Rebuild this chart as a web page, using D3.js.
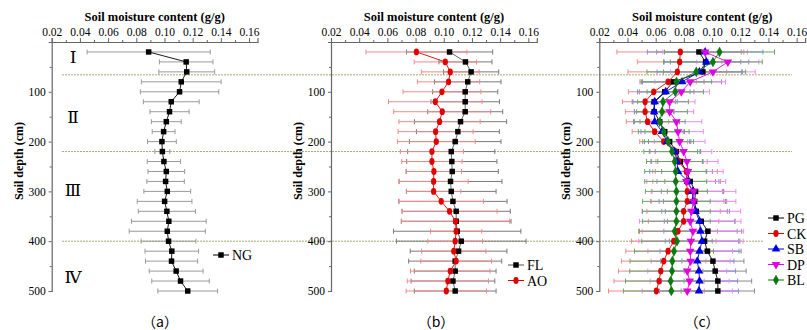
<!DOCTYPE html>
<html>
<head>
<meta charset="utf-8">
<script src="https://cdn.jsdelivr.net/npm/d3@7"></script>
<style>
  body { margin: 0; background: #fff; }
  svg text { font-family: "Liberation Serif", "Times New Roman", serif; fill: #000; }
</style>
</head>
<body>
<div id="chart"></div>
<script>
// soil depth of every sample (cm)
var depths = [20, 40, 60, 80, 100, 120, 140, 160, 180, 200, 220, 240, 260, 280, 300,
              320, 340, 360, 380, 400, 420, 440, 460, 480, 500];

// (a) NG
var ngMean = [0.0888, 0.1154, 0.1158, 0.1119, 0.1107, 0.1048, 0.1036, 0.1013, 0.0994, 0.0982, 0.0985, 0.0996, 0.1013,
              0.1008, 0.1020, 0.1001, 0.1017, 0.1031, 0.1020, 0.1029, 0.1052, 0.1050, 0.1083, 0.1114, 0.1165];
var ngErr = [0.0437, 0.0190, 0.0198, 0.0283, 0.0278, 0.0198, 0.0139, 0.0106, 0.0081, 0.0102, 0.0053, 0.0118, 0.0130,
             0.0133, 0.0166, 0.0194, 0.0203, 0.0265, 0.0270, 0.0194, 0.0190, 0.0185, 0.0191, 0.0204, 0.0212];

// (b) FL and AO
var flMean = [0.1041, 0.1154, 0.1194, 0.1170, 0.1152, 0.1152, 0.1152, 0.1119, 0.1100, 0.1081, 0.1053, 0.1057, 0.1060,
              0.1048, 0.1053, 0.1065, 0.1088, 0.1088, 0.1095, 0.1124, 0.1105, 0.1081, 0.1081, 0.1065, 0.1081];
var flErr = [0.0306, 0.0188, 0.0196, 0.0236, 0.0231, 0.0243, 0.0266, 0.0327, 0.0294, 0.0325, 0.0309, 0.0320, 0.0327,
             0.0365, 0.0318, 0.0384, 0.0384, 0.0389, 0.0452, 0.0460, 0.0343, 0.0330, 0.0290, 0.0297, 0.0290];
var aoMean = [0.0806, 0.1011, 0.1046, 0.1034, 0.0987, 0.0940, 0.0989, 0.0970, 0.0942, 0.0947, 0.0916, 0.0916, 0.0930,
              0.0928, 0.0928, 0.0982, 0.1041, 0.1083, 0.1088, 0.1081, 0.1071, 0.1088, 0.1046, 0.1029, 0.1018];
var aoErr = [0.0358, 0.0221, 0.0205, 0.0221, 0.0276, 0.0332, 0.0344, 0.0288, 0.0266, 0.0276, 0.0224, 0.0214, 0.0196,
             0.0245, 0.0193, 0.0299, 0.0337, 0.0384, 0.0182, 0.0194, 0.0228, 0.0251, 0.0282, 0.0288, 0.0285];

// (c) PG, CK, SB, DP, BL
var pgMean = [0.0907, 0.0954, 0.0935, 0.0723, 0.0664, 0.0589, 0.0589, 0.0629, 0.0664, 0.0699, 0.0747, 0.0775, 0.0822,
              0.0845, 0.0883, 0.0876, 0.0888, 0.0923, 0.0970, 0.0947, 0.0966, 0.1006, 0.1022, 0.1041, 0.1041];
var pgErr = [0.030, 0.025, 0.028, 0.022, 0.018, 0.015, 0.014, 0.014, 0.014, 0.015, 0.015, 0.016, 0.018,
             0.018, 0.020, 0.022, 0.022, 0.024, 0.024, 0.025, 0.024, 0.022, 0.022, 0.024, 0.026];
var ckMean = [0.0775, 0.0770, 0.0754, 0.0688, 0.0586, 0.0525, 0.0525, 0.0542, 0.0593, 0.0657, 0.0740, 0.0765, 0.0817,
              0.0820, 0.0824, 0.0824, 0.0798, 0.0798, 0.0758, 0.0728, 0.0688, 0.0657, 0.0636, 0.0624, 0.0605];
var ckErr = [0.045, 0.030, 0.035, 0.020, 0.018, 0.016, 0.014, 0.015, 0.016, 0.017, 0.018, 0.020, 0.022,
             0.024, 0.025, 0.026, 0.026, 0.025, 0.028, 0.030, 0.030, 0.030, 0.030, 0.032, 0.034];
var sbMean = [0.0951, 0.0960, 0.0910, 0.0787, 0.0671, 0.0593, 0.0589, 0.0593, 0.0645, 0.0681, 0.0735, 0.0751, 0.0758,
              0.0829, 0.0860, 0.0864, 0.0883, 0.0911, 0.0918, 0.0928, 0.0911, 0.0895, 0.0907, 0.0911, 0.0907];
var sbErr = [0.041, 0.030, 0.030, 0.028, 0.020, 0.016, 0.014, 0.015, 0.015, 0.016, 0.018, 0.018, 0.020,
             0.022, 0.022, 0.024, 0.024, 0.025, 0.026, 0.026, 0.028, 0.026, 0.026, 0.027, 0.028];
var dpMean = [0.0951, 0.1112, 0.1006, 0.0845, 0.0782, 0.0699, 0.0699, 0.0747, 0.0758, 0.0770, 0.0798, 0.0822, 0.0829,
              0.0817, 0.0869, 0.0869, 0.0853, 0.0845, 0.0864, 0.0850, 0.0845, 0.0848, 0.0824, 0.0841, 0.0824];
var dpErr = [0.030, 0.022, 0.030, 0.025, 0.020, 0.018, 0.017, 0.018, 0.018, 0.018, 0.020, 0.022, 0.025,
             0.028, 0.030, 0.030, 0.035, 0.036, 0.036, 0.037, 0.030, 0.028, 0.028, 0.028, 0.032];
var blMean = [0.1053, 0.1006, 0.0888, 0.0747, 0.0739, 0.0652, 0.0645, 0.0629, 0.0657, 0.0688, 0.0716, 0.0735, 0.0742,
              0.0742, 0.0747, 0.0747, 0.0747, 0.0747, 0.0735, 0.0751, 0.0730, 0.0718, 0.0716, 0.0706, 0.0711];
var blErr = [0.039, 0.035, 0.035, 0.025, 0.020, 0.018, 0.018, 0.018, 0.018, 0.018, 0.020, 0.020, 0.022,
             0.022, 0.022, 0.024, 0.024, 0.024, 0.025, 0.025, 0.028, 0.030, 0.030, 0.032, 0.034];

// axis ticks and annotations
var xTicks = [0.02, 0.04, 0.06, 0.08, 0.10, 0.12, 0.14, 0.16];
var yTicks = [100, 200, 300, 400, 500];
var layerBounds = [66, 220, 400];
var layerNames = ["Ⅰ", "Ⅱ", "Ⅲ", "Ⅳ"];
var layerDepths = [30, 150, 298, 472];
var panelNames = ["（a）", "（b）", "（c）"];

var W = 807, H = 330;
var svg = d3.select("#chart").append("svg").attr("width", W).attr("height", H);

var yTop = 42, yBottom = 291;
var y = d3.scaleLinear().domain([0, 500]).range([yTop, yBottom]);

// one panel per group of treatments
var panels = [
  { left: 51.7, label: 160, series: [
      { name: "NG", mean: ngMean, err: ngErr, color: "#000", bar: "#9a9a9a", shape: "square" }] },
  { left: 331, label: 436, series: [
      { name: "FL", mean: flMean, err: flErr, color: "#000", bar: "#7a7a7a", line: "#555", shape: "square" },
      { name: "AO", mean: aoMean, err: aoErr, color: "#e00000", bar: "#f08a8a", shape: "circle" }] },
  { left: 599.3, label: 702, series: [
      { name: "PG", mean: pgMean, err: pgErr, color: "#000", bar: "#8c8c8c", shape: "square" },
      { name: "CK", mean: ckMean, err: ckErr, color: "#e00000", bar: "#f08a8a", shape: "circle" },
      { name: "SB", mean: sbMean, err: sbErr, color: "#0000e0", bar: "#8a8af0", shape: "up" },
      { name: "DP", mean: dpMean, err: dpErr, color: "#e000e0", bar: "#f08af0", shape: "down" },
      { name: "BL", mean: blMean, err: blErr, color: "#107810", bar: "#6aa86a", shape: "diamond" }] }
];

var legendPos = [{ x: 213, y: 255 }, { x: 508, y: 265 }, { x: 768, y: 218 }];

function symbolPath(shape) {
  if (shape == "square") return d3.symbol(d3.symbolSquare, 30)();
  if (shape == "circle") return d3.symbol(d3.symbolCircle, 30)();
  if (shape == "diamond") return d3.symbol(d3.symbolDiamond, 32)();
  return d3.symbol(d3.symbolTriangle, 32)();
}
function symbolTransform(shape, px, py) {
  if (shape == "circle") return "translate(" + px + "," + py + ") scale(0.85,1.1)";
  if (shape == "down") return "translate(" + px + "," + py + ") rotate(180)";
  return "translate(" + px + "," + py + ")";
}

// layer boundaries (dotted lines run across all panels)
layerBounds.forEach(function (b, i) {
  svg.append("line")
    .attr("x1", 62).attr("x2", i == 2 ? 763 : 792)
    .attr("y1", y(b)).attr("y2", y(b))
    .attr("stroke", "#a9a872").attr("stroke-width", 1)
    .attr("stroke-dasharray", "2,1");
});

panels.forEach(function (p, pi) {
  var x = d3.scaleLinear().domain([0.02, 0.166]).range([p.left, p.left + 205.8]);
  var g = svg.append("g");

  // axes
  g.append("g").attr("transform", "translate(0," + yTop + ")")
    .call(d3.axisTop(x).tickValues(xTicks).tickFormat(d3.format(".2f")).tickSize(4).tickPadding(2));
  g.append("g").attr("transform", "translate(0," + yTop + ")")
    .call(d3.axisTop(x).tickValues(d3.range(0.03, 0.166, 0.02)).tickFormat("").tickSize(2))
    .select(".domain").remove();
  g.append("g").attr("transform", "translate(" + p.left + ",0)")
    .call(d3.axisLeft(y).tickValues(yTicks).tickSize(3).tickPadding(3));
  g.append("g").attr("transform", "translate(" + p.left + ",0)")
    .call(d3.axisLeft(y).tickValues([50, 150, 250, 350, 450]).tickFormat("").tickSize(2))
    .select(".domain").remove();
  g.selectAll(".domain").attr("stroke", "#666").attr("stroke-width", 1.2);
  g.selectAll(".tick line").attr("stroke", "#666");
  g.selectAll(".tick text")
    .style("font-family", "'Liberation Serif', serif").style("font-size", "11.5px").attr("fill", "#000");

  g.append("text")
    .attr("x", p.left + 103).attr("y", 21)
    .attr("text-anchor", "middle").attr("font-weight", "bold").attr("font-size", 12.5)
    .text("Soil moisture content (g/g)");

  g.append("text")
    .attr("transform", "translate(" + (p.left - 29) + "," + 161 + ") rotate(-90)")
    .attr("text-anchor", "middle").attr("font-weight", "bold").attr("font-size", 12)
    .text("Soil depth (cm)");

  g.append("text")
    .attr("x", p.label).attr("y", 327)
    .attr("text-anchor", "middle").attr("font-size", 14)
    .style("font-family", "'Noto Sans CJK SC', serif")
    .text(panelNames[pi]);

  // error bars first
  p.series.forEach(function (s) {
    var eb = g.append("g").attr("stroke", s.bar).attr("stroke-width", 1);
    depths.forEach(function (d, i) {
      var lo = x(s.mean[i] - s.err[i]), hi = x(s.mean[i] + s.err[i]), yy = y(d);
      eb.append("line").attr("x1", lo).attr("x2", hi).attr("y1", yy).attr("y2", yy);
      eb.append("line").attr("x1", lo).attr("x2", lo).attr("y1", yy - 2.5).attr("y2", yy + 2.5);
      eb.append("line").attr("x1", hi).attr("x2", hi).attr("y1", yy - 2.5).attr("y2", yy + 2.5);
    });
  });

  // connecting lines and markers
  p.series.forEach(function (s) {
    var line = d3.line()
      .x(function (d, i) { return x(s.mean[i]); })
      .y(function (d) { return y(d); });
    g.append("path").datum(depths)
      .attr("d", line).attr("fill", "none")
      .attr("stroke", s.line || s.color).attr("stroke-width", 0.9);
    g.selectAll(null).data(depths).enter().append("path")
      .attr("d", symbolPath(s.shape))
      .attr("transform", function (d, i) { return symbolTransform(s.shape, x(s.mean[i]), y(d)); })
      .attr("fill", s.color);
  });

  // legend
  var lg = legendPos[pi];
  p.series.forEach(function (s, k) {
    var ly = lg.y + k * 15.5;
    g.append("line").attr("x1", lg.x).attr("x2", lg.x + 16).attr("y1", ly).attr("y2", ly)
      .attr("stroke", s.line || s.color).attr("stroke-width", 1);
    g.append("path").attr("d", symbolPath(s.shape))
      .attr("transform", symbolTransform(s.shape, lg.x + 8, ly)).attr("fill", s.color);
    g.append("text").attr("x", lg.x + 19).attr("y", ly + 5)
      .attr("font-size", 14).text(s.name);
  });
});

// layer names in panel (a)
layerNames.forEach(function (n, i) {
  svg.append("text")
    .attr("x", 73).attr("y", y(layerDepths[i]) + 6)
    .attr("text-anchor", "middle").attr("font-size", 17)
    .style("font-family", "'DejaVu Serif', 'Liberation Serif', serif")
    .text(n);
});
</script>
</body>
</html>
